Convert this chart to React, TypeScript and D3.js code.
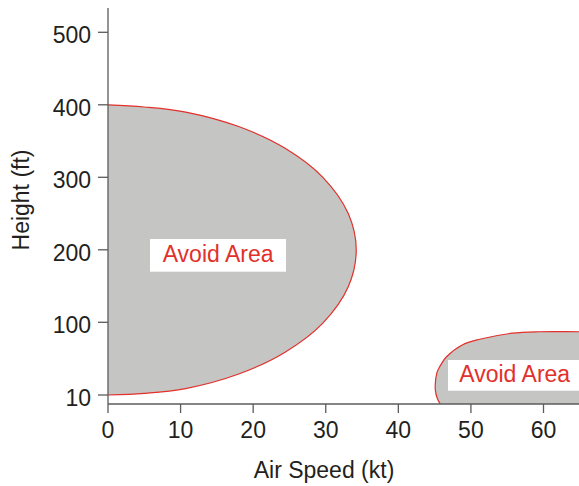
import React from "react";
import * as d3 from "d3";

// Data (air speed in kt, height in ft)
const bigAreaCurve: [number, number][] = [
  [0, 400], [5, 397], [10.7, 390], [18, 370], [24.4, 340], [29.6, 300],
  [33.1, 250], [34.2, 200], [33.1, 149], [29.6, 99], [24.4, 63],
  [18, 36], [10.7, 18], [5, 12], [0, 10],
];
const smallAreaCurve: [number, number][] = [
  [45.8, -1.5], [45.4, 5], [45.1, 16], [45.3, 37], [45.7, 45], [46.6, 57],
  [48.8, 72], [51.2, 79], [55.7, 86.5], [59.4, 88.3], [65, 88.3], [70, 88.3],
];
const xTicks = [0, 10, 20, 30, 40, 50, 60];
const yTicks = [10, 100, 200, 300, 400, 500];
const areaLabel = "Avoid Area";
const xTitle = "Air Speed (kt)";
const yTitle = "Height (ft)";

const W = 579;
const H = 486;
const FONT = "'Liberation Sans', Arial, Helvetica, sans-serif";
const RED = "#e2302a";
const GRAY = "#c5c5c4";
const AXIS = "#5b5b5b";
const TEXT = "#231f20";

export default function App() {
  const x = d3.scaleLinear().domain([0, 60]).range([108, 543.5]);
  const y = d3.scaleLinear().domain([10, 100, 500]).range([395, 322.3, 32.3]);
  const plotLeft = x(0);
  const plotBottom = 404;
  const plotTop = 8;

  const line = d3
    .line<[number, number]>()
    .x((d) => x(d[0]))
    .y((d) => y(d[1]))
    .curve(d3.curveCatmullRom.alpha(0.5));

  const bigStroke = line(bigAreaCurve) || "";
  const bigFill = bigStroke + "Z";
  const smallStroke = line(smallAreaCurve) || "";
  const last = smallAreaCurve[smallAreaCurve.length - 1];
  const first = smallAreaCurve[0];
  const smallFill =
    smallStroke +
    `L${x(last[0])},${plotBottom + 5}L${x(first[0])},${plotBottom + 5}Z`;

  return (
    <svg
      width={W}
      height={H}
      style={{ position: "absolute", left: 0, top: 0, background: "#fff" }}
      fontFamily={FONT}
    >
      <defs>
        <clipPath id="plot">
          <rect x={plotLeft} y={plotTop} width={W - plotLeft} height={plotBottom - plotTop} />
        </clipPath>
      </defs>
      <g clipPath="url(#plot)">
        <path d={bigFill} fill={GRAY} stroke="none" />
        <path d={bigStroke} fill="none" stroke={RED} strokeWidth={1.2} />
        <path d={smallFill} fill={GRAY} stroke="none" />
        <path d={smallStroke} fill="none" stroke={RED} strokeWidth={1.2} />
        {/* label boxes */}
        <rect x={150} y={239} width={136} height={32.7} fill="#fff" />
        <text x={162.7} y={262.3} fontSize={23} fill={RED}>
          {areaLabel}
        </text>
        <rect x={448} y={360} width={140} height={30.7} fill="#fff" />
        <text x={459.3} y={381.7} fontSize={23} fill={RED}>
          {areaLabel}
        </text>
      </g>

      {/* axes */}
      <line x1={plotLeft} x2={plotLeft} y1={plotTop} y2={plotBottom} stroke={AXIS} strokeWidth={1.3} />
      <line x1={plotLeft} x2={W} y1={plotBottom} y2={plotBottom} stroke={AXIS} strokeWidth={1.3} />
      {xTicks.map((t) => (
        <g key={"x" + t}>
          <line x1={x(t)} x2={x(t)} y1={plotBottom} y2={plotBottom + 9} stroke={AXIS} strokeWidth={1.3} />
          <text x={x(t)} y={438} fontSize={23} fill={TEXT} textAnchor="middle">
            {t}
          </text>
        </g>
      ))}
      {yTicks.map((t) => (
        <g key={"y" + t}>
          <line x1={plotLeft - 10} x2={plotLeft} y1={y(t)} y2={y(t)} stroke={AXIS} strokeWidth={1.3} />
          <text x={91} y={y(t) + 10.8} fontSize={23} fill={TEXT} textAnchor="end">
            {t}
          </text>
        </g>
      ))}
      <text x={324} y={477.5} fontSize={23} fill={TEXT} textAnchor="middle">
        {xTitle}
      </text>
      <text
        transform="translate(29,200) rotate(-90)"
        fontSize={23}
        fill={TEXT}
        textAnchor="middle"
      >
        {yTitle}
      </text>
    </svg>
  );
}
